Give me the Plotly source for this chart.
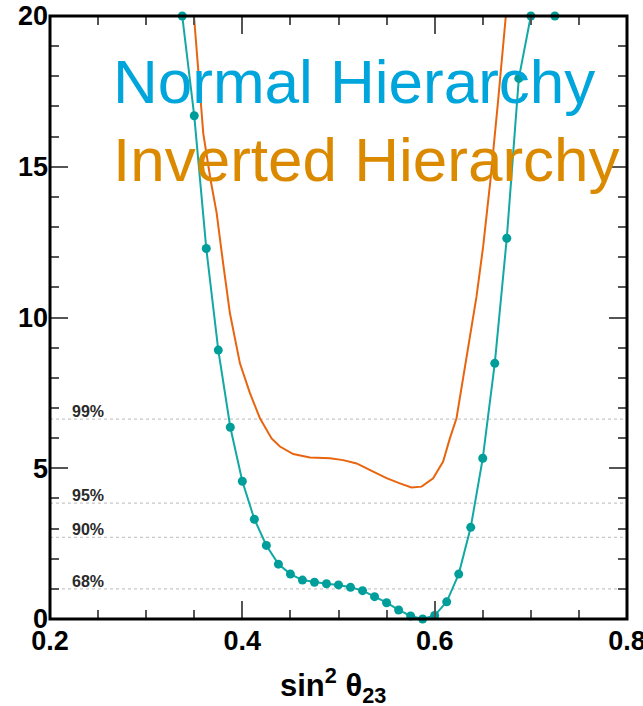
import plotly.graph_objects as go

# Normal hierarchy scan points (sin^2 theta23, delta chi^2)
nh_x = [0.3375, 0.35, 0.3625, 0.375, 0.3875, 0.4, 0.4125, 0.425, 0.4375, 0.45,
        0.4625, 0.475, 0.4875, 0.5, 0.5125, 0.525, 0.5375, 0.55, 0.5625, 0.575,
        0.5875, 0.6, 0.6125, 0.625, 0.6375, 0.65, 0.6625, 0.675, 0.6875, 0.7, 0.725]
nh_y = [20.0, 16.69, 12.29, 8.92, 6.36, 4.57, 3.31, 2.44, 1.82, 1.49,
        1.29, 1.22, 1.17, 1.13, 1.05, 0.94, 0.74, 0.54, 0.30, 0.10,
        0.0, 0.12, 0.57, 1.49, 3.04, 5.33, 8.48, 12.63, 17.93, 20.0, 20.0]

# Inverted hierarchy curve
ih_x = [0.3497, 0.3594, 0.367, 0.3733, 0.380, 0.3871, 0.3975, 0.4079, 0.4183, 0.4304,
        0.4391, 0.4529, 0.4703, 0.4911, 0.5049, 0.5188, 0.5361, 0.55, 0.5638, 0.5759,
        0.5864, 0.5984, 0.6088, 0.6158, 0.6227, 0.628, 0.6366, 0.6435, 0.6504, 0.658,
        0.666, 0.674]
ih_y = [20.0, 16.1, 14.56, 13.46, 11.8, 10.14, 8.48, 7.49, 6.66, 5.99,
        5.72, 5.47, 5.36, 5.33, 5.27, 5.16, 4.89, 4.67, 4.50, 4.36,
        4.39, 4.67, 5.22, 5.99, 6.66, 7.70, 9.25, 10.69, 12.35, 14.56,
        17.2, 20.0]

# Confidence level lines
cl_values = [1.0, 2.71, 3.84, 6.63]
cl_labels = ["68%", "90%", "95%", "99%"]

x_ticks = [0.2, 0.4, 0.6, 0.8]
x_ticklabels = ["0.2", "0.4", "0.6", "0.8"]
y_ticks = [0, 5, 10, 15, 20]
y_ticklabels = ["0", "5", "10", "15", "20"]

x_range = [0.2, 0.8]
y_range = [0, 20]

FONT = "Liberation Sans, Arial, sans-serif"

fig = go.Figure()

for v in cl_values:
    fig.add_trace(go.Scatter(x=x_range, y=[v, v], mode="lines",
                             line=dict(color="#c8c8c8", width=1.2, dash="3px,3px"),
                             hoverinfo="skip", showlegend=False))

fig.add_trace(go.Scatter(x=ih_x, y=ih_y, mode="lines",
                         line=dict(color="#e8650f", width=2),
                         showlegend=False))

fig.add_trace(go.Scatter(x=nh_x, y=nh_y, mode="lines+markers",
                         line=dict(color="#12a8a4", width=2),
                         marker=dict(color="#009e9a", size=9),
                         cliponaxis=False, showlegend=False))

for v, lab in zip(cl_values, cl_labels):
    fig.add_annotation(x=0.221, y=v, xref="x", yref="y", text=lab,
                       showarrow=False, xanchor="left", yanchor="bottom", yshift=-3,
                       font=dict(family=FONT, size=16, color="#2a2a2a", weight="bold"))

fig.add_annotation(x=0.106, y=0.891, xref="paper", yref="paper",
                   text="Normal Hierarchy", showarrow=False,
                   xanchor="left", yanchor="middle",
                   font=dict(family=FONT, size=62, color="#00a5db"))
fig.add_annotation(x=0.106, y=0.762, xref="paper", yref="paper",
                   text="Inverted Hierarchy", showarrow=False,
                   xanchor="left", yanchor="middle",
                   font=dict(family=FONT, size=62, color="#db8a00"))

# x-axis title placed as annotation below the axis
fig.add_annotation(x=0.49, y=0, xref="paper", yref="paper",
                   text="sin<sup>2</sup> θ<sub>23</sub>", showarrow=False,
                   xanchor="center", yanchor="top", yshift=-42,
                   font=dict(family=FONT, size=31, color="black", weight="bold"))

# frame around the plot area
fig.add_shape(type="rect", xref="paper", yref="paper", x0=0, y0=0, x1=1, y1=1,
              line=dict(color="black", width=3), layer="above")

axis_common = dict(showgrid=False, zeroline=False, showline=False,
                   mirror="allticks", ticks="inside", ticklen=18,
                   tickwidth=1.5, tickcolor="#555555", automargin=False,
                   ticklabeloverflow="allow",
                   tickfont=dict(family=FONT, size=27, color="black", weight="bold"))

fig.update_xaxes(range=x_range, tickmode="array", tickvals=x_ticks, ticktext=x_ticklabels,
                 minor=dict(dtick=0.05, tick0=0.2, ticklen=9, tickcolor="#555555",
                            ticks="inside", tickwidth=1.5),
                 ticklabelstandoff=3,
                 **axis_common)
fig.update_yaxes(range=y_range, tickmode="array", tickvals=y_ticks, ticktext=y_ticklabels,
                 minor=dict(dtick=1, tick0=0, ticklen=9, tickcolor="#555555",
                            ticks="inside", tickwidth=1.5),
                 ticklabelstandoff=1,
                 **axis_common)

fig.update_layout(width=643, height=706,
                  margin=dict(l=50, r=16, t=16, b=87, autoexpand=False),
                  plot_bgcolor="white", paper_bgcolor="white",
                  showlegend=False)

# remove the default 8px body margin so the figure sits at the page origin
fig.write_html("out.html",
               config={"displayModeBar": False},
               post_script="document.body.style.margin='0';document.body.style.overflow='hidden';")
